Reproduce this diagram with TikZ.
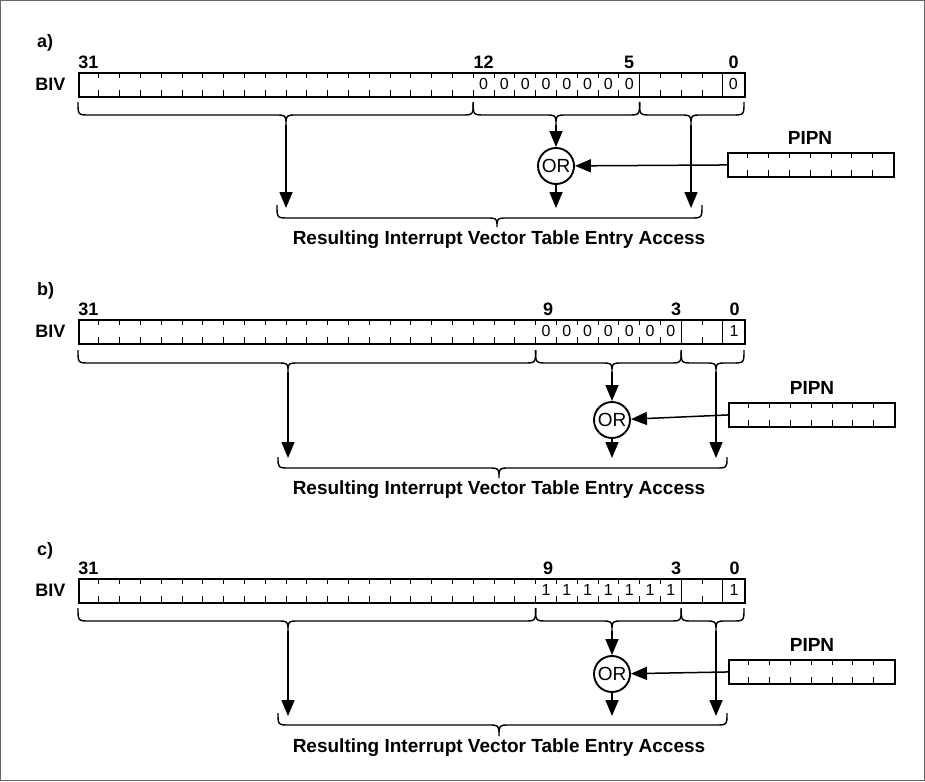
\documentclass[tikz,border=0pt]{standalone}
\usepackage{fontspec}
\setmainfont{Liberation Sans}
\usetikzlibrary{arrows.meta,calc}

\tikzset{
  reg/.style={draw, line width=1.9pt, minimum width=666pt, minimum height=24pt, inner sep=0pt, anchor=north west},
  pipnbox/.style={draw, line width=1.9pt, minimum width=166.4pt, minimum height=24pt, inner sep=0pt, anchor=north west},
  bittick/.style={line width=0.8pt},
  divider/.style={line width=1pt},
  brc/.style={line width=1.4pt},
  conn/.style={line width=1.5pt, -{Triangle[length=16pt,width=13pt]}},
  orgate/.style={circle, draw, line width=1.9pt, minimum size=36pt, inner sep=0pt, font=\fontsize{19}{19}\selectfont},
  lbl/.style={font=\bfseries\fontsize{18}{18}\selectfont, inner sep=0pt},
  biglbl/.style={font=\bfseries\fontsize{19}{19}\selectfont, inner sep=0pt},
  bitval/.style={font=\fontsize{16}{16}\selectfont, inner sep=0pt},
}

% #1 x1, #2 x2, #3 tip x, #4 y ends, #5 y horizontal, #6 y tip
\newcommand\mybrace[6]{%
  \draw[brc] (#1,#4) .. controls (#1,#5) .. (#1+12,#5) -- (#3-11,#5)
    .. controls (#3,#5) .. (#3,#6) .. controls (#3,#5) .. (#3+11,#5)
    -- (#2-12,#5) .. controls (#2,#5) .. (#2,#4);}

% #1 name, #2 top y, #3 full dividers
\newcommand\drawregister[3]{%
  \node[reg] (#1) at (78,#2) {};
  \foreach \i in {1,...,31} {
    \draw[bittick] ({78+\i*20.8},#2) -- ++(0,6);
    \draw[bittick] ({78+\i*20.8},#2+24) -- ++(0,-6);
  }
  \foreach \i in {#3} \draw[divider] ({78+\i*20.8},#2) -- ++(0,24);
}

% #1 name, #2 x left, #3 top y
\newcommand\drawpipn[3]{%
  \node[pipnbox] (#1) at (#2,#3) {};
  \foreach \i in {1,...,7} {
    \draw[bittick] ({#2+\i*20.8},#3) -- ++(0,6);
    \draw[bittick] ({#2+\i*20.8},#3+24) -- ++(0,-6);
  }
}

\begin{document}
\begin{tikzpicture}[x=1pt,y=-1pt]
\useasboundingbox (0,0) rectangle (925,781);
\draw[line width=1pt, black!60] (0.5,0.5) rectangle (924.5,780.5);

%% ---------------- panel a ----------------
\node[lbl, anchor=west] (a-title) at (37,43) {a)};
\node[lbl, anchor=east] (a-biv) at (65.5,84) {BIV};
\drawregister{a-reg}{72}{27,31}
\node[lbl, anchor=base] (a-n31) at (88.4,68.5) {31};
\node[lbl, anchor=base] (a-n12) at (483.6,68.5) {12};
\node[lbl, anchor=base] (a-n5) at (629.2,68.5) {5};
\node[lbl, anchor=base] (a-n0) at (733.6,68.5) {0};
\foreach \b in {5,...,12}
  \node[bitval] (a-v\b) at ({78+(31-\b+0.5)*20.8},84) {0};
\node[bitval] (a-v0) at (733.2,84) {0};

\mybrace{78}{473.2}{286}{102}{115}{125}
\mybrace{473.2}{639.6}{556}{102}{115}{125}
\mybrace{639.6}{744}{691}{102}{115}{125}
\coordinate (a-t1) at (286,125);
\coordinate (a-t2) at (556,125);
\coordinate (a-t3) at (691,125);
\coordinate (a-e1) at (286,208);
\coordinate (a-e2) at (556,208);
\coordinate (a-e3) at (691,208);
\node[orgate] (a-or) at (556,166) {OR};
\drawpipn{a-pipn}{727}{152}
\node[biglbl] (a-pipnl) at (810,138) {PIPN};

\draw[conn] (a-t1) -- (a-e1);
\draw[conn] (a-t2) -- (a-or);
\draw[conn] (a-or) -- (a-e2);
\draw[conn] (a-pipn.west) -- (a-or);
\draw[conn] (a-t3) -- (a-e3);

\mybrace{277}{702}{497}{205}{218}{227}
\node[biglbl] (a-res) at (499,240) {Resulting Interrupt Vector Table Entry Access};

%% ---------------- panel b ----------------
\node[lbl, anchor=west] (b-title) at (37,291) {b)};
\node[lbl, anchor=east] (b-biv) at (65.5,331) {BIV};
\drawregister{b-reg}{319}{29,31}
\node[lbl, anchor=base] (b-n31) at (88.4,315.5) {31};
\node[lbl, anchor=base] (b-n9) at (548,315.5) {9};
\node[lbl, anchor=base] (b-n3) at (676,315.5) {3};
\node[lbl, anchor=base] (b-n0) at (734.5,315.5) {0};
\foreach \b in {3,...,9}
  \node[bitval] (b-v\b) at ({78+(31-\b+0.5)*20.8},331) {0};
\node[bitval] (b-v0) at (734,331) {1};

\mybrace{78}{535.6}{288}{350}{363}{372}
\mybrace{535.6}{681.2}{612}{350}{363}{372}
\mybrace{681.2}{744}{716}{350}{363}{372}
\coordinate (b-t1) at (288,372);
\coordinate (b-t2) at (612,372);
\coordinate (b-t3) at (716,372);
\coordinate (b-e1) at (288,458);
\coordinate (b-e2) at (612,458);
\coordinate (b-e3) at (716,458);
\node[orgate] (b-or) at (612,420) {OR};
\drawpipn{b-pipn}{728}{402}
\node[biglbl] (b-pipnl) at (812,388) {PIPN};

\draw[conn] (b-t1) -- (b-e1);
\draw[conn] (b-t2) -- (b-or);
\draw[conn] (b-or) -- (b-e2);
\draw[conn] (b-pipn.west) -- (b-or);
\draw[conn] (b-t3) -- (b-e3);

\mybrace{278}{727}{499}{457}{468}{478}
\node[biglbl] (b-res) at (499,490) {Resulting Interrupt Vector Table Entry Access};

%% ---------------- panel c ----------------
\node[lbl, anchor=west] (c-title) at (37,551) {c)};
\node[lbl, anchor=east] (c-biv) at (65.5,590) {BIV};
\drawregister{c-reg}{578}{29,31}
\node[lbl, anchor=base] (c-n31) at (88.4,574.5) {31};
\node[lbl, anchor=base] (c-n9) at (548,574.5) {9};
\node[lbl, anchor=base] (c-n3) at (676,574.5) {3};
\node[lbl, anchor=base] (c-n0) at (734.5,574.5) {0};
\foreach \b in {3,...,9}
  \node[bitval] (c-v\b) at ({78+(31-\b+0.5)*20.8},590) {1};
\node[bitval] (c-v0) at (734,590) {1};

\mybrace{78}{535.6}{288}{608}{621}{631}
\mybrace{535.6}{681.2}{612}{608}{621}{631}
\mybrace{681.2}{744}{716}{608}{621}{631}
\coordinate (c-t1) at (288,631);
\coordinate (c-t2) at (612,631);
\coordinate (c-t3) at (716,631);
\coordinate (c-e1) at (288,716);
\coordinate (c-e2) at (612,716);
\coordinate (c-e3) at (716,716);
\node[orgate] (c-or) at (612,674) {OR};
\drawpipn{c-pipn}{728}{659}
\node[biglbl] (c-pipnl) at (812,645) {PIPN};

\draw[conn] (c-t1) -- (c-e1);
\draw[conn] (c-t2) -- (c-or);
\draw[conn] (c-or) -- (c-e2);
\draw[conn] (c-pipn.west) -- (c-or);
\draw[conn] (c-t3) -- (c-e3);

\mybrace{278}{727}{499}{713}{725}{736}
\node[biglbl] (c-res) at (499,748) {Resulting Interrupt Vector Table Entry Access};
\end{tikzpicture}
\end{document}
